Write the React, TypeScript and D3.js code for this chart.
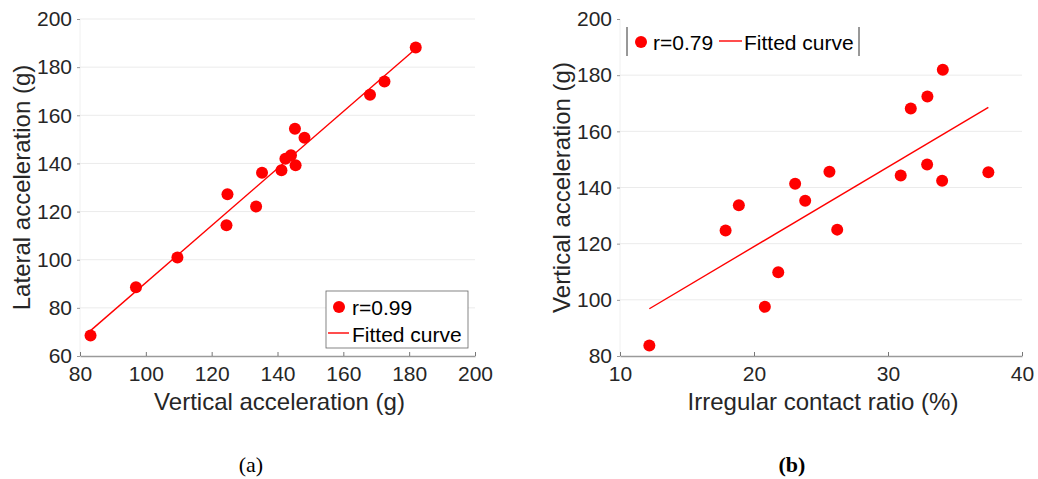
import React, { useEffect, useRef } from 'react';
import * as d3 from 'd3';

// panel (a): vertical vs lateral acceleration
const verticalA = [83.2, 97.0, 109.6, 124.5, 124.8, 133.5, 135.3, 141.2, 142.4, 144.1, 145.3, 145.5, 148.2, 168.1, 172.5, 182.0];
const lateralA = [68.5, 88.6, 100.9, 114.3, 127.2, 122.1, 136.1, 137.2, 141.9, 143.4, 154.4, 139.2, 150.7, 168.5, 174.0, 188.2];

// panel (b): irregular contact ratio vs vertical acceleration
const ratioB = [12.19, 17.88, 18.87, 20.81, 21.81, 23.07, 23.82, 25.63, 26.21, 30.95, 31.70, 32.94, 32.92, 34.04, 34.09, 37.49];
const verticalB = [83.7, 124.7, 133.7, 97.5, 109.8, 141.3, 135.3, 145.6, 125.0, 144.3, 168.1, 172.4, 148.2, 142.4, 181.9, 145.4];

const xTicksA = [80, 100, 120, 140, 160, 180, 200];
const yTicksA = [60, 80, 100, 120, 140, 160, 180, 200];
const xTicksB = [10, 20, 30, 40];
const yTicksB = [80, 100, 120, 140, 160, 180, 200];

const legendA = ['r=0.99', 'Fitted curve'];
const legendB = ['r=0.79', 'Fitted curve'];

const RED = '#ff0000';
const FONT = '"Liberation Sans", Arial, sans-serif';

function fit(xs: number[], ys: number[]) {
  const mx = d3.mean(xs)!, my = d3.mean(ys)!;
  let sxy = 0, sxx = 0;
  xs.forEach((x, i) => { sxy += (x - mx) * (ys[i] - my); sxx += (x - mx) ** 2; });
  const b = sxy / sxx;
  return (x: number) => my + b * (x - mx);
}

function drawPanel(svg: any, opts: any) {
  const { xs, ys, xDomain, yDomain, xTicks, yTicks, left, right, top, bottom, xTitle, yTitle, yTitleX, gridSkipTop } = opts;
  const x = d3.scaleLinear().domain(xDomain).range([left, right]);
  const y = d3.scaleLinear().domain(yDomain).range([bottom, top]);
  const g = svg.append('g');

  // faint y axis line
  g.append('line').attr('x1', left).attr('x2', left).attr('y1', top).attr('y2', bottom)
    .attr('stroke', '#f0f0f0').attr('stroke-width', 1);

  // horizontal grid
  g.append('g').selectAll('line')
    .data(yTicks.filter((t: number) => t !== yDomain[0] && !(gridSkipTop && t === yDomain[1])))
    .join('line')
    .attr('x1', left).attr('x2', right)
    .attr('y1', (d: number) => y(d)).attr('y2', (d: number) => y(d))
    .attr('stroke', '#ebebeb').attr('stroke-width', 1);

  // x axis
  const ax = g.append('g').attr('transform', `translate(0,${bottom})`)
    .call(d3.axisBottom(x).tickValues(xTicks).tickSize(-4).tickSizeOuter(0).tickPadding(10));
  ax.select('.domain').attr('stroke', '#9a9a9a').attr('stroke-width', 1.4);
  ax.selectAll('.tick line').attr('stroke', '#777');
  ax.selectAll('.tick text').attr('font-size', 21).attr('font-family', FONT).attr('fill', '#262626');

  // y axis
  const ay = g.append('g').attr('transform', `translate(${left},0)`)
    .call(d3.axisLeft(y).tickValues(yTicks).tickSize(3).tickSizeOuter(0).tickPadding(5));
  ay.select('.domain').remove();
  ay.selectAll('.tick line').attr('stroke', '#999');
  ay.selectAll('.tick text').attr('font-size', 21).attr('font-family', FONT).attr('fill', '#262626');

  // fitted line
  const f = fit(xs, ys);
  const [x0, x1] = d3.extent(xs) as [number, number];
  g.append('path')
    .datum([x0, x1])
    .attr('fill', 'none').attr('stroke', RED).attr('stroke-width', 1.4)
    .attr('d', d3.line<number>().x(d => x(d)).y(d => y(f(d))));

  // points
  g.append('g').selectAll('circle')
    .data(xs.map((v: number, i: number) => [v, ys[i]]))
    .join('circle')
    .attr('cx', (d: number[]) => x(d[0])).attr('cy', (d: number[]) => y(d[1]))
    .attr('r', 6).attr('fill', RED);

  // titles
  g.append('text').attr('x', (left + right) / 2 + 2).attr('y', 410)
    .attr('text-anchor', 'middle').attr('font-size', 24).attr('font-family', FONT).attr('fill', '#262626')
    .text(xTitle);
  g.append('text').attr('transform', `translate(${yTitleX},${(top + bottom) / 2}) rotate(-90)`)
    .attr('text-anchor', 'middle').attr('font-size', 24).attr('font-family', FONT).attr('fill', '#262626')
    .text(yTitle);
}

const App = () => {
  const ref = useRef<SVGSVGElement>(null);

  useEffect(() => {
    const svg = d3.select(ref.current);
    svg.selectAll('*').remove();

    drawPanel(svg, {
      xs: verticalA, ys: lateralA, xDomain: [80, 200], yDomain: [60, 200],
      xTicks: xTicksA, yTicks: yTicksA, left: 80, right: 475, top: 19, bottom: 356,
      xTitle: 'Vertical acceleration (g)', yTitle: 'Lateral acceleration (g)', yTitleX: 30,
    });
    drawPanel(svg, {
      xs: ratioB, ys: verticalB, xDomain: [10, 40], yDomain: [80, 200],
      xTicks: xTicksB, yTicks: yTicksB, left: 620, right: 1022, top: 19, bottom: 356,
      xTitle: 'Irregular contact ratio (%)', yTitle: 'Vertical acceleration (g)', yTitleX: 570,
      gridSkipTop: true,
    });

    // legend (a): boxed, stacked
    const la = svg.append('g');
    la.append('rect').attr('x', 326).attr('y', 291).attr('width', 142).attr('height', 57)
      .attr('fill', '#fff').attr('stroke', '#666').attr('stroke-width', 0.8);
    la.append('circle').attr('cx', 339).attr('cy', 307).attr('r', 6).attr('fill', RED);
    la.append('line').attr('x1', 328).attr('x2', 349).attr('y1', 333).attr('y2', 333)
      .attr('stroke', RED).attr('stroke-width', 1.4);
    la.selectAll('text').data(legendA).join('text')
      .attr('x', 352).attr('y', (_: string, i: number) => 315 + i * 27)
      .attr('font-size', 21).attr('font-family', FONT).attr('fill', '#000')
      .text((d: string) => d);

    // legend (b): horizontal, only side bars visible
    const lb = svg.append('g');
    [627, 859].forEach(xv => lb.append('line').attr('x1', xv).attr('x2', xv).attr('y1', 27).attr('y2', 56)
      .attr('stroke', '#333').attr('stroke-width', 1));
    lb.append('circle').attr('cx', 641).attr('cy', 42).attr('r', 6).attr('fill', RED);
    lb.append('line').attr('x1', 719).attr('x2', 742).attr('y1', 41).attr('y2', 41)
      .attr('stroke', RED).attr('stroke-width', 1.4);
    lb.selectAll('text').data(legendB).join('text')
      .attr('x', (_: string, i: number) => (i === 0 ? 653 : 744)).attr('y', 50)
      .attr('font-size', 21).attr('font-family', FONT).attr('fill', '#000')
      .text((d: string) => d);

    // captions
    svg.append('text').attr('x', 251).attr('y', 472).attr('text-anchor', 'middle')
      .attr('font-size', 22).attr('font-family', '"Liberation Serif", serif').text('(a)');
    svg.append('text').attr('x', 792).attr('y', 472).attr('text-anchor', 'middle')
      .attr('font-size', 22).attr('font-family', '"Liberation Serif", serif')
      .attr('font-weight', 'bold').text('(b)');
  }, []);

  return (
    <svg ref={ref} width={1038} height={479}
      style={{ position: 'absolute', left: 0, top: 0, background: '#fff' }} />
  );
};

export default App;
